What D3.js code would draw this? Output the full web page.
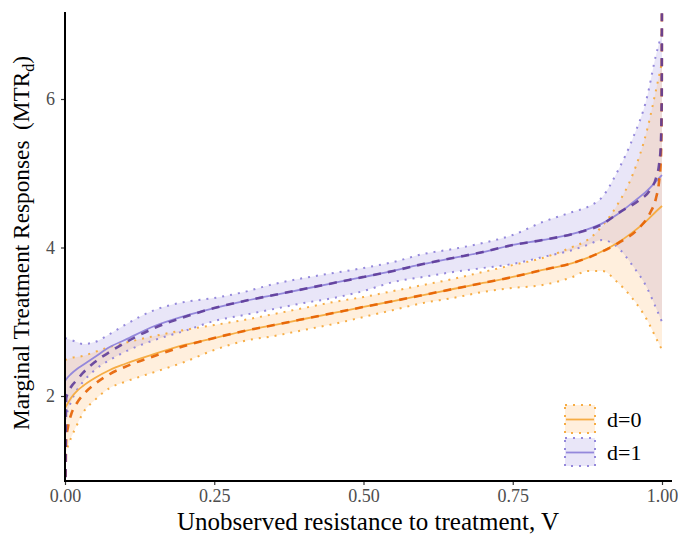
<!DOCTYPE html>
<html><head><meta charset="utf-8">
<script src="https://cdn.jsdelivr.net/npm/d3@7"></script>
<style>body{margin:0;background:#fff}svg{display:block}text{font-family:"Liberation Serif","Times New Roman",serif}</style>
</head><body><div id="chart"></div>
<script>
// ---------- data ----------
const vGrid = [0,0.005,0.01,0.02,0.03,0.05,0.075,0.1,0.15,0.2,0.25,0.3,0.35,0.4,0.45,0.5,0.55,0.6,0.65,0.7,0.75,0.8,0.85,0.875,0.9,0.925,0.95,0.975,0.99,1];
const mtr1Est = [2.202,2.256,2.296,2.364,2.418,2.525,2.660,2.754,2.943,3.077,3.185,3.279,3.360,3.441,3.522,3.603,3.684,3.778,3.859,3.939,4.034,4.101,4.182,4.245,4.325,4.445,4.600,4.765,4.890,4.976];
const mtr0Est = [1.838,1.906,1.973,2.067,2.135,2.242,2.350,2.431,2.566,2.687,2.781,2.875,2.956,3.037,3.118,3.199,3.279,3.360,3.441,3.522,3.603,3.697,3.791,3.860,3.950,4.060,4.200,4.365,4.485,4.559];
const mtr1Upper = [2.781,2.768,2.754,2.727,2.700,2.727,2.835,2.956,3.158,3.266,3.320,3.401,3.508,3.589,3.657,3.724,3.805,3.912,3.980,4.061,4.168,4.343,4.478,4.545,4.680,5.017,5.448,6.027,6.593,6.889];
const mtr1Lower = [1.677,1.811,1.919,2.081,2.189,2.350,2.485,2.593,2.754,2.875,3.010,3.091,3.172,3.253,3.320,3.414,3.535,3.603,3.670,3.724,3.778,3.872,3.966,4.034,4.101,4.007,3.764,3.455,3.185,2.997];
const mtr0Upper = [2.485,2.498,2.512,2.525,2.539,2.593,2.660,2.714,2.808,2.889,2.956,3.024,3.104,3.185,3.266,3.333,3.414,3.495,3.576,3.670,3.764,3.859,4.007,4.101,4.290,4.572,4.963,5.583,6.121,6.498];
const mtr0Lower = [1.205,1.327,1.434,1.609,1.771,1.946,2.108,2.189,2.323,2.458,2.620,2.741,2.808,2.889,2.970,3.064,3.158,3.253,3.320,3.401,3.455,3.495,3.603,3.684,3.684,3.535,3.320,3.024,2.781,2.620];

const vTrue = [0.0005,0.002,0.005,0.01,0.02,0.03,0.05,0.075,0.1,0.15,0.2,0.25,0.3,0.35,0.4,0.45,0.5,0.55,0.6,0.65,0.7,0.75,0.8,0.85,0.9,0.93,0.96,0.98,0.99,0.995,0.998,0.9995,0.99995];
const mtr1True = [0.3,1.973,2.040,2.121,2.215,2.310,2.458,2.593,2.714,2.916,3.064,3.185,3.279,3.360,3.441,3.522,3.603,3.684,3.778,3.859,3.939,4.034,4.101,4.182,4.316,4.480,4.626,4.774,4.936,5.111,5.380,5.987,8.0];
const mtr0True = [0.3,1.407,1.583,1.744,1.906,2.013,2.162,2.296,2.391,2.539,2.673,2.781,2.875,2.956,3.037,3.118,3.199,3.279,3.360,3.441,3.522,3.603,3.697,3.791,3.945,4.075,4.250,4.465,4.667,4.882,5.178,5.852,8.0];

const xTicks = [0,0.25,0.5,0.75,1];
const xTickLabels = ["0.00","0.25","0.50","0.75","1.00"];
const yTicks = [2,4,6];
const legendLabels = ["d=0","d=1"];

// ---------- styles ----------
const C = {
  o: {line:"#f6ad45", fill:"#fdb863", dash:"#e66101"},
  p: {line:"#9488db", fill:"#9a8ce0", dash:"#5e3c99"}
};

const W = 678, H = 535;
const svg = d3.select("#chart").append("svg").attr("width",W).attr("height",H);
const x = d3.scaleLinear().domain([0,1]).range([65,662]);
const y = d3.scaleLinear().domain([0.8552,7.1717]).range([481,12]);

svg.append("defs").append("clipPath").attr("id","panel")
  .append("rect").attr("x",65).attr("y",12).attr("width",607).attr("height",469);

const g = svg.append("g").attr("clip-path","url(#panel)");
const curve = d3.curveMonotoneX;

function ribbon(lo, hi, col){
  const data = vGrid.map((v,i)=>({v, lo:lo[i], hi:hi[i]}));
  g.append("path").datum(data)
    .attr("d", d3.area().x(d=>x(d.v)).y0(d=>y(d.lo)).y1(d=>y(d.hi)).curve(curve))
    .attr("fill", col.fill).attr("fill-opacity",0.22);
}
function border(vals, col){
  const data = vGrid.map((v,i)=>({v, m:vals[i]}));
  g.append("path").datum(data)
    .attr("d", d3.line().x(d=>x(d.v)).y(d=>y(d.m)).curve(curve))
    .attr("fill","none").attr("stroke",col.line).attr("stroke-width",2)
    .attr("stroke-dasharray","2 6");
}
function line(vs, vals, col, w, dash, op){
  const data = vs.map((v,i)=>({v, m:vals[i]}));
  const p = g.append("path").datum(data)
    .attr("d", d3.line().x(d=>x(d.v)).y(d=>y(d.m)).curve(curve))
    .attr("fill","none").attr("stroke",col).attr("stroke-width",w).attr("stroke-opacity",op);
  if(dash) p.attr("stroke-dasharray",dash);
}

ribbon(mtr1Lower, mtr1Upper, C.p);
ribbon(mtr0Lower, mtr0Upper, C.o);
border(mtr1Upper, C.p); border(mtr1Lower, C.p);
border(mtr0Upper, C.o); border(mtr0Lower, C.o);
line(vGrid, mtr0Est, C.o.line, 1.8, null, 1);
line(vGrid, mtr1Est, C.p.line, 1.8, null, 1);
line(vTrue, mtr0True, C.o.dash, 2.6, "8 7", 0.9);
line(vTrue, mtr1True, C.p.dash, 2.6, "8 7", 0.9);

// ---------- axes ----------
const xa = svg.append("g").attr("transform","translate(0,481)")
  .call(d3.axisBottom(x).tickValues(xTicks).tickFormat((d,i)=>xTickLabels[i]).tickSize(4).tickPadding(4));
xa.select(".domain").remove();
xa.selectAll(".tick line").attr("stroke","#333").attr("stroke-width",1.2);
xa.selectAll(".tick text").attr("font-size",18).attr("fill","#4d4d4d").attr("font-family","Liberation Serif");

const ya = svg.append("g").attr("transform","translate(65,0)")
  .call(d3.axisLeft(y).tickValues(yTicks).tickFormat(d3.format("d")).tickSize(4).tickPadding(6));
ya.select(".domain").remove();
ya.selectAll(".tick line").attr("stroke","#333").attr("stroke-width",1.2);
ya.selectAll(".tick text").attr("font-size",18).attr("fill","#4d4d4d").attr("font-family","Liberation Serif");

svg.append("line").attr("x1",64).attr("x2",672).attr("y1",481).attr("y2",481).attr("stroke","#000").attr("stroke-width",2);
svg.append("line").attr("x1",65).attr("x2",65).attr("y1",12).attr("y2",482).attr("stroke","#000").attr("stroke-width",2);

svg.append("text").attr("x",368).attr("y",530).attr("text-anchor","middle")
  .attr("font-size",25).attr("fill","#000").text("Unobserved resistance to treatment, V");

const yt = svg.append("text").attr("transform","translate(29,243) rotate(-90)").attr("text-anchor","middle")
  .attr("font-size",23.3).attr("fill","#000");
yt.append("tspan").text("Marginal Treatment Responses\u2009 (MTR");
yt.append("tspan").attr("font-size",16).attr("dy",5).text("d");
yt.append("tspan").attr("dy",-5).text(")");

// ---------- legend ----------
const leg = svg.append("g");
[C.o, C.p].forEach((col,i)=>{
  const y0 = 405 + i*33;
  leg.append("rect").attr("x",565).attr("y",y0).attr("width",30).attr("height",28)
    .attr("fill",col.fill).attr("fill-opacity",0.22)
    .attr("stroke",col.line).attr("stroke-width",2).attr("stroke-dasharray","2 6");
  leg.append("line").attr("x1",566).attr("x2",594).attr("y1",y0+14.5).attr("y2",y0+14.5)
    .attr("stroke",col.line).attr("stroke-width",1.8);
  leg.append("text").attr("x",607).attr("y",y0+22).attr("font-size",22).attr("fill","#000").text(legendLabels[i]);
});
</script></body></html>
